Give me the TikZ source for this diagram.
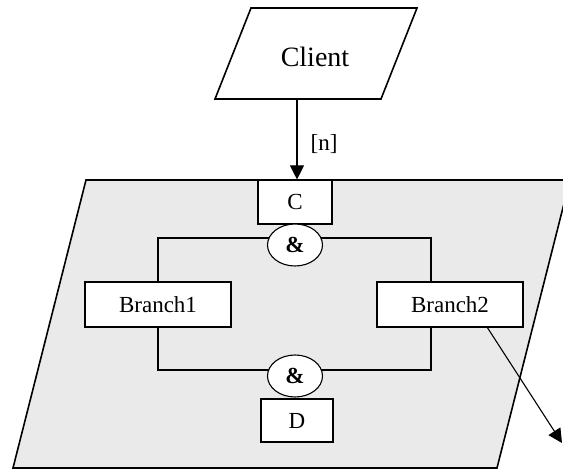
\documentclass[tikz,border=0pt]{standalone}
\usepackage{fontspec}
\setmainfont{Liberation Serif}
\usetikzlibrary{arrows.meta,shapes.geometric}
\definecolor{panelgray}{RGB}{234,234,234}
\pgfdeclarelayer{bg}
\pgfsetlayers{bg,main}
\tikzset{
  box/.style={draw, line width=1.1pt, fill=white, inner sep=0pt,
              font=\fontsize{23}{26}\selectfont},
  andnode/.style={draw, ellipse, line width=1.1pt, fill=white, inner sep=0pt,
              minimum width=55pt, minimum height=42pt,
              font=\fontsize{23}{26}\selectfont\bfseries},
  wire/.style={line width=1.1pt},
  flow/.style={line width=1.1pt, -{Triangle[length=14pt,width=14pt]}},
  frame/.style={line width=1.6pt, line join=miter}
}
\begin{document}
\begin{tikzpicture}[x=1pt,y=-1pt]
\useasboundingbox (0,0) rectangle (563,470);

% client parallelogram
\draw[frame, fill=white] (251,8) -- (417,8) -- (381,99) -- (215,99) -- cycle;
\node[font=\fontsize{28}{32}\selectfont] (client) at (315,57) {Client};
\coordinate (clientout) at (297,99);

% shaded region
\begin{pgfonlayer}{bg}
\draw[frame, fill=panelgray] (86,180) -- (570,180) -- (497,468) -- (13,468) -- cycle;
\end{pgfonlayer}

% boxes and joins
\node[box, minimum width=74pt, minimum height=44pt] (C) at (295,202) {C};
\node[andnode] (and1) at (295,245) {\&};
\node[box, minimum width=146pt, minimum height=45pt] (b1) at (158,304.5) {Branch1};
\node[box, minimum width=146pt, minimum height=45pt] (b2) at (450,304.5) {Branch2};
\node[andnode] (and2) at (295,376) {\&};
\node[box, minimum width=72pt, minimum height=43pt] (D) at (297,420.5) {D};

% parallel split and merge wires
\coordinate (jtop) at (295,238);
\coordinate (jbot) at (295,370);
\coordinate (b2out) at (487,327);
\coordinate (exit) at (562,443);
\begin{pgfonlayer}{bg}
\draw[wire] (b1.north) |- (jtop) -| ([xshift=-19pt]b2.north);
\draw[wire] (b1.south) |- (jbot) -| ([xshift=-19pt]b2.south);
\end{pgfonlayer}

% flows
\draw[flow] (clientout) -- (C.north -| clientout);
\node[font=\fontsize{23}{26}\selectfont] (mult) at (324,144) {[n]};
\draw[flow] (b2out) -- (exit);
\end{tikzpicture}
\end{document}
